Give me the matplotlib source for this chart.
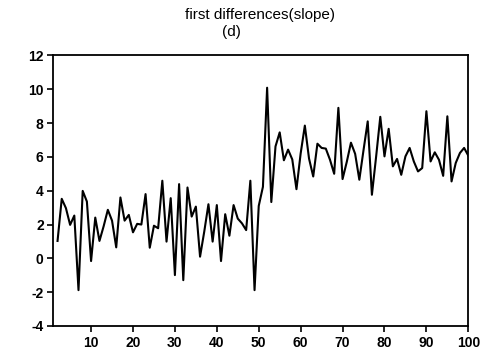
import matplotlib
matplotlib.use("Agg")
import matplotlib.pyplot as plt

plt.rcParams['font.family'] = ['Liberation Sans', 'DejaVu Sans']
plt.rcParams['axes.unicode_minus'] = False

t = list(range(2, 101))
d = [1.03, 3.52, 2.97, 1.98, 2.53, -1.88, 3.99, 3.36, -0.16, 2.41,
     1.03, 1.90, 2.87, 2.23, 0.65, 3.60, 2.23, 2.57, 1.54, 2.04,
     2.00, 3.80, 0.63, 1.93, 1.78, 4.59, 0.99, 3.56, -0.99, 4.39,
     -1.29, 4.19, 2.47, 3.06, 0.10, 1.58, 3.20, 0.99, 3.15, -0.16,
     2.61, 1.34, 3.15, 2.35, 2.07, 1.67, 4.59, -1.88, 3.10, 4.23,
     10.09, 3.33, 6.62, 7.45, 5.80, 6.43, 5.85, 4.09, 6.20, 7.85,
     5.90, 4.84, 6.78, 6.53, 6.49, 5.83, 5.00, 8.90, 4.69, 5.70,
     6.84, 6.18, 4.65, 6.40, 8.10, 3.76, 6.00, 8.37, 6.03, 7.66,
     5.44, 5.88, 4.94, 6.03, 6.53, 5.73, 5.14, 5.34, 8.70, 5.73,
     6.27, 5.83, 4.88, 8.40, 4.55, 5.64, 6.23, 6.53, 6.07]
xticks = [10, 20, 30, 40, 50, 60, 70, 80, 90, 100]
yticks = [-4, -2, 0, 2, 4, 6, 8, 10, 12]
title1 = "first differences(slope)"
title2 = "(d)"

fig = plt.figure(figsize=(4.94, 3.53), dpi=100)
ax = fig.add_axes([0.108, 0.0765, 0.840, 0.7665])
ax.plot(t, d, color='black', linewidth=1.5)
ax.set_xlim(1, 100)
ax.set_ylim(-4, 12)
ax.set_xticks(xticks)
ax.set_yticks(yticks)
ax.tick_params(axis='both', direction='out', length=4, width=1.2, labelsize=10, pad=3)
for lab in ax.get_xticklabels() + ax.get_yticklabels():
    lab.set_fontweight('bold')
for s in ax.spines.values():
    s.set_linewidth(1.3)
fig.text(0.527, 0.957, title1, ha='center', va='center', fontsize=11)
fig.text(0.469, 0.908, title2, ha='center', va='center', fontsize=11)
fig.savefig("out.png", dpi=100)
